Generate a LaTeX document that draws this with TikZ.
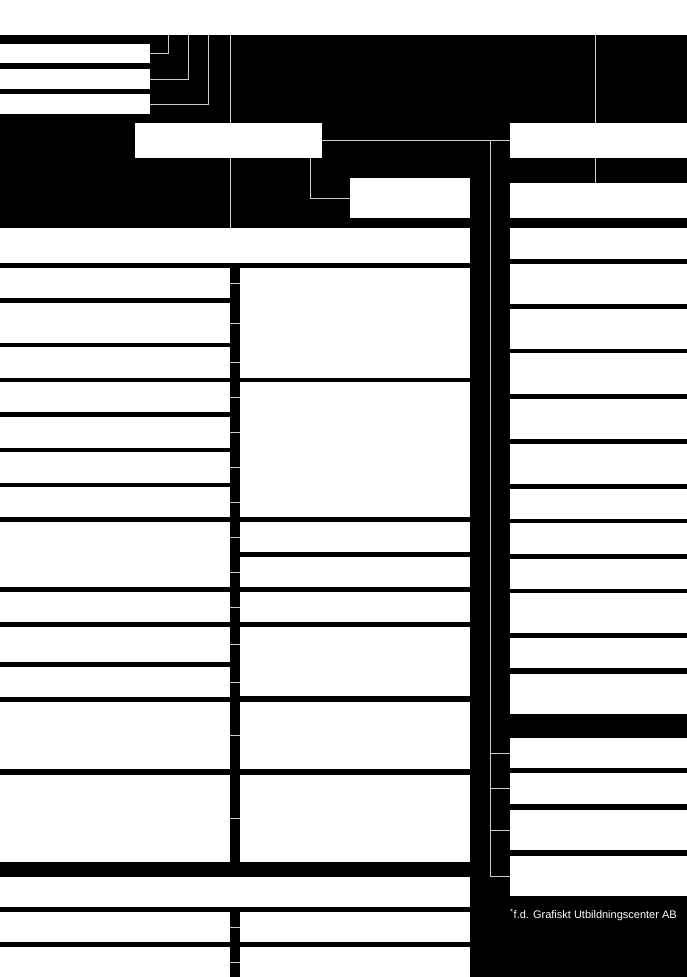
\documentclass[tikz,border=0pt]{standalone}
\usepackage{fontspec}
\setmainfont{Liberation Sans}
\usepackage{tikz}

\begin{document}
\begin{tikzpicture}[x=1pt, y=-1pt,
    unit/.style={rectangle, fill=white, anchor=north west, inner sep=0pt, outer sep=0pt},
    link/.style={draw=gray!40, line width=1pt}]
    \useasboundingbox (0,0) rectangle (687,977);

    % Background
    \fill[white] (0,0) rectangle (687,35);
    \fill[black] (0,35) rectangle (687,977);

    % Free ends at the top
    \coordinate (topA) at (168,35);
    \coordinate (topB) at (188,35);
    \coordinate (topC) at (208,35);
    \coordinate (topD) at (230,35);
    \coordinate (topE) at (595,35);
    \coordinate (spine) at (490,0);

    % Top units
    \node[unit, minimum width=150pt, minimum height=19pt] (T1) at (0,44) {};
    \node[unit, minimum width=150pt, minimum height=20pt] (T2) at (0,69) {};
    \node[unit, minimum width=150pt, minimum height=20pt] (T3) at (0,94) {};

    \node[unit, minimum width=187pt, minimum height=35pt] (C) at (135,123) {};
    \node[unit, minimum width=177pt, minimum height=35pt] (R0) at (510,123) {};
    \node[unit, minimum width=120pt, minimum height=40pt] (D) at (350,178) {};
    \node[unit, minimum width=177pt, minimum height=35pt] (R0b) at (510,183) {};

    % Wide units
    \node[unit, minimum width=470pt, minimum height=35pt] (W1) at (0,228) {};
    \node[unit, minimum width=470pt, minimum height=30pt] (W2) at (0,877) {};

    % Left column
    \node[unit, minimum width=230pt, minimum height=30pt] (L1) at (0,268) {};
    \node[unit, minimum width=230pt, minimum height=40pt] (L2) at (0,303) {};
    \node[unit, minimum width=230pt, minimum height=31pt] (L3) at (0,347) {};
    \node[unit, minimum width=230pt, minimum height=30pt] (L4) at (0,382) {};
    \node[unit, minimum width=230pt, minimum height=31pt] (L5) at (0,417) {};
    \node[unit, minimum width=230pt, minimum height=31pt] (L6) at (0,452) {};
    \node[unit, minimum width=230pt, minimum height=30pt] (L7) at (0,487) {};
    \node[unit, minimum width=230pt, minimum height=65pt] (L8) at (0,522) {};
    \node[unit, minimum width=230pt, minimum height=30pt] (L9) at (0,592) {};
    \node[unit, minimum width=230pt, minimum height=35pt] (L10) at (0,627) {};
    \node[unit, minimum width=230pt, minimum height=30pt] (L11) at (0,667) {};
    \node[unit, minimum width=230pt, minimum height=67pt] (L12) at (0,702) {};
    \node[unit, minimum width=230pt, minimum height=87pt] (L13) at (0,775) {};
    \node[unit, minimum width=230pt, minimum height=30pt] (L14) at (0,912) {};
    \node[unit, minimum width=230pt, minimum height=30pt] (L15) at (0,947) {};

    % Middle column
    \node[unit, minimum width=230pt, minimum height=110pt] (M1) at (240,268) {};
    \node[unit, minimum width=230pt, minimum height=135pt] (M2) at (240,382) {};
    \node[unit, minimum width=230pt, minimum height=30pt] (M3) at (240,522) {};
    \node[unit, minimum width=230pt, minimum height=30pt] (M4) at (240,557) {};
    \node[unit, minimum width=230pt, minimum height=30pt] (M5) at (240,592) {};
    \node[unit, minimum width=230pt, minimum height=69pt] (M6) at (240,627) {};
    \node[unit, minimum width=230pt, minimum height=67pt] (M7) at (240,702) {};
    \node[unit, minimum width=230pt, minimum height=87pt] (M8) at (240,775) {};
    \node[unit, minimum width=230pt, minimum height=30pt] (M9) at (240,912) {};
    \node[unit, minimum width=230pt, minimum height=30pt] (M10) at (240,947) {};

    % Right column
    \node[unit, minimum width=177pt, minimum height=31pt] (R1) at (510,228) {};
    \node[unit, minimum width=177pt, minimum height=40pt] (R2) at (510,264) {};
    \node[unit, minimum width=177pt, minimum height=40pt] (R3) at (510,309) {};
    \node[unit, minimum width=177pt, minimum height=41pt] (R4) at (510,353) {};
    \node[unit, minimum width=177pt, minimum height=40pt] (R5) at (510,399) {};
    \node[unit, minimum width=177pt, minimum height=40pt] (R6) at (510,444) {};
    \node[unit, minimum width=177pt, minimum height=30pt] (R7) at (510,489) {};
    \node[unit, minimum width=177pt, minimum height=31pt] (R8) at (510,523) {};
    \node[unit, minimum width=177pt, minimum height=30pt] (R9) at (510,559) {};
    \node[unit, minimum width=177pt, minimum height=40pt] (R10) at (510,593) {};
    \node[unit, minimum width=177pt, minimum height=30pt] (R11) at (510,638) {};
    \node[unit, minimum width=177pt, minimum height=40pt] (R12) at (510,674) {};
    \node[unit, minimum width=177pt, minimum height=30pt] (R13) at (510,738) {};
    \node[unit, minimum width=177pt, minimum height=31pt] (R14) at (510,773) {};
    \node[unit, minimum width=177pt, minimum height=40pt] (R15) at (510,810) {};
    \node[unit, minimum width=177pt, minimum height=40pt] (R16) at (510,856) {};

    % Footnote
    \node[anchor=base west, inner sep=0pt, text=white, font=\fontsize{11}{13}\selectfont] (note) at (510,918) {\textsuperscript{*}f.d. Grafiskt Utbildningscenter AB};

    % Connectors at the top
    \draw[link] (T1.east) -| (topA);
    \draw[link] (T2.east) -| (topB);
    \draw[link] (T3.east) -| (topC);
    \draw[link] (topD) -- (topD |- C.north);
    \draw[link] (topD |- C.south) -- (topD |- W1.north);
    \draw[link] (topE) -- (topE |- R0.north);
    \draw[link] (topE |- R0.south) -- (topE |- R0b.north);
    \draw[link] (C.east) -- (R0.west);
    \draw[link] ([xshift=-12pt]C.south east) |- (D.west);

    % Spine on the right
    \draw[link] (C.east -| spine) |- (R16.west);
    \draw[link] (R13.west -| spine) -- (R13.west);
    \draw[link] (R14.west -| spine) -- (R14.west);
    \draw[link] (R15.west -| spine) -- (R15.west);

    % Left to middle
    \draw[link] (L1.east) -- (L1.east -| M1.west);
    \draw[link] (L2.east) -- (L2.east -| M1.west);
    \draw[link] (L3.east) -- (L3.east -| M1.west);
    \draw[link] (L4.east) -- (L4.east -| M2.west);
    \draw[link] (L5.east) -- (L5.east -| M2.west);
    \draw[link] (L6.east) -- (L6.east -| M2.west);
    \draw[link] (L7.east) -- (L7.east -| M2.west);
    \draw[link] (M3.west -| L8.east) -- (M3.west);
    \draw[link] (M4.west -| L8.east) -- (M4.west);
    \draw[link] (L9.east) -- (M5.west);
    \draw[link] (L10.east) -- (L10.east -| M6.west);
    \draw[link] (L11.east) -- (L11.east -| M6.west);
    \draw[link] (L12.east) -- (M7.west);
    \draw[link] (L13.east) -- (M8.west);
    \draw[link] (L14.east) -- (M9.west);
    \draw[link] (L15.east) -- (M10.west);
\end{tikzpicture}
\end{document}
